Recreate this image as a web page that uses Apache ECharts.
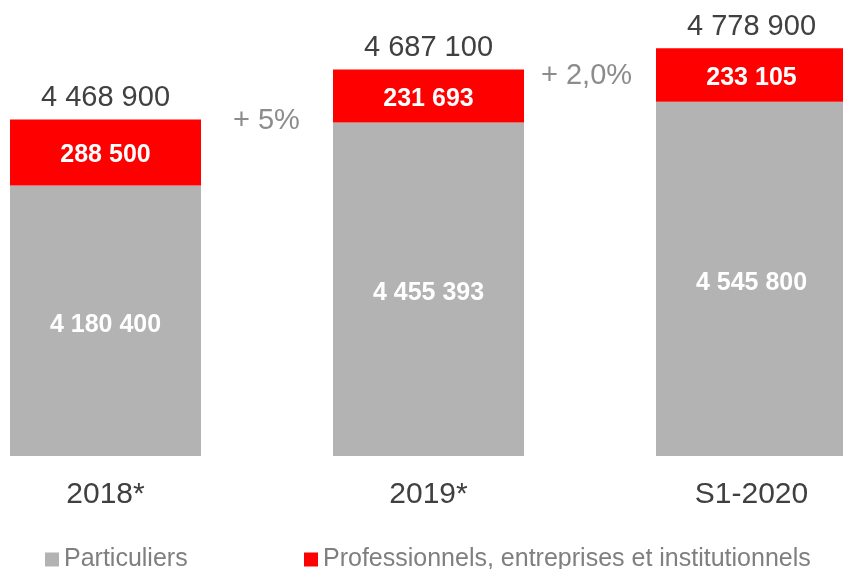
<!DOCTYPE html>
<html>
<head>
<meta charset="utf-8">
<script src="https://cdn.jsdelivr.net/npm/echarts@6/dist/echarts.min.js"></script>
<style>
html,body{margin:0;padding:0;background:#fff;}
#main{width:843px;height:569px;}
</style>
</head>
<body>
<div id="main"></div>
<script>
const categories = ['2018*', '2019*', 'S1-2020'];
const particuliers = [4180400, 4455393, 4545800];
const professionnels = [288500, 231693, 233105];
const totals = [4468900, 4687100, 4778900];
const growthLabels = ['+ 5%', '+ 2,0%'];
const seriesNames = ['Particuliers', 'Professionnels, entreprises et institutionnels'];

function fmt(v) {
  return String(v).replace(/\B(?=(\d{3})+(?!\d))/g, ' ');
}

const FONT = 'Liberation Sans, Arial, sans-serif';
const chart = echarts.init(document.getElementById('main'), null, {renderer: 'canvas'});

chart.setOption({
  animation: false,
  backgroundColor: '#ffffff',
  grid: {left: -56, right: -70, top: 0, bottom: 113, containLabel: false, outerBoundsMode: 'none'},
  xAxis: {
    type: 'category',
    data: categories,
    axisLine: {show: false},
    axisTick: {show: false},
    axisLabel: {color: '#404040', fontSize: 30, fontFamily: FONT, margin: 24}
  },
  yAxis: {
    type: 'value',
    min: 3000000,
    max: 4990000,
    show: false,
    splitLine: {show: false}
  },
  legend: [{
    data: [seriesNames[0]],
    left: 40, top: 542,
    icon: 'rect', itemWidth: 14, itemHeight: 14, itemGap: 5,
    textStyle: {color: '#7f7f7f', fontSize: 25, fontFamily: FONT}
  }, {
    data: [seriesNames[1]],
    left: 299, top: 542,
    icon: 'rect', itemWidth: 14, itemHeight: 14, itemGap: 5,
    textStyle: {color: '#7f7f7f', fontSize: 25, fontFamily: FONT}
  }],
  series: [{
    name: seriesNames[0],
    type: 'bar',
    stack: 'total',
    barWidth: 191,
    data: particuliers,
    itemStyle: {color: '#b3b3b3'},
    label: {
      show: true, position: 'inside', offset: [0, 4],
      color: '#ffffff', fontWeight: 'bold', fontSize: 25, fontFamily: FONT,
      formatter: p => fmt(p.value)
    }
  }, {
    name: seriesNames[1],
    type: 'bar',
    stack: 'total',
    barWidth: 191,
    data: professionnels,
    itemStyle: {color: '#ff0000'},
    label: {
      show: true, position: 'inside', offset: [0, 3],
      color: '#ffffff', fontWeight: 'bold', fontSize: 25, fontFamily: FONT,
      formatter: p => fmt(p.value)
    }
  }, {
    name: 'totals',
    type: 'bar',
    stack: 'total',
    barWidth: 191,
    data: totals.map(() => 0),
    itemStyle: {color: 'transparent'},
    label: {
      show: true, position: 'top', distance: 7,
      color: '#404040', fontSize: 29, fontFamily: FONT,
      formatter: p => fmt(totals[p.dataIndex])
    },
    tooltip: {show: false}
  }],
  graphic: [{
    type: 'text', left: 233, top: 106,
    style: {text: growthLabels[0], fill: '#8c8c8c', font: '29px ' + FONT}
  }, {
    type: 'text', left: 541, top: 61,
    style: {text: growthLabels[1], fill: '#8c8c8c', font: '29px ' + FONT}
  }]
});
</script>
</body>
</html>
